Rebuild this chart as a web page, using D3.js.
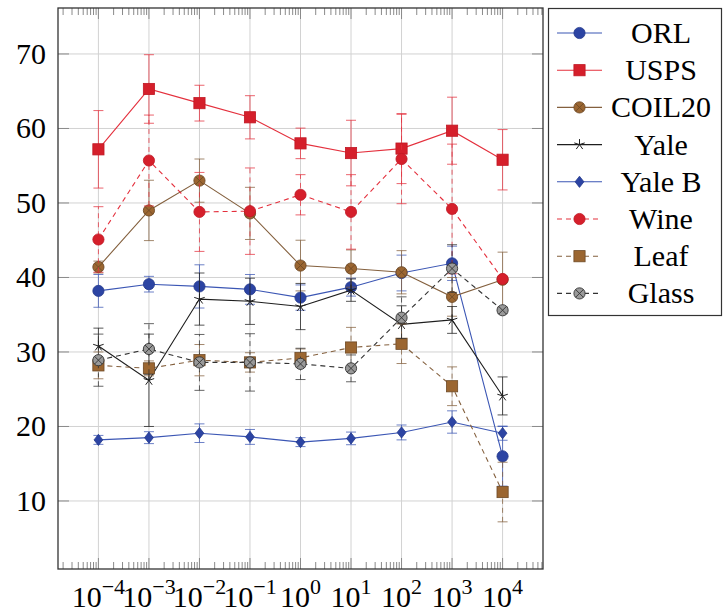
<!DOCTYPE html>
<html>
<head>
<meta charset="utf-8">
<script src="https://cdn.jsdelivr.net/npm/d3@7"></script>
</head>
<body style="margin:0">
<svg id="chart" width="723" height="614"></svg>
<script>
// Regularisation parameter values (x axis, log scale)
const lambdas = [1e-4, 1e-3, 1e-2, 1e-1, 1, 1e1, 1e2, 1e3, 1e4];
const xTickExponents = ["\u22124", "\u22123", "\u22122", "\u22121", "0", "1", "2", "3", "4"];
const yTicks = [10, 20, 30, 40, 50, 60, 70];

// Mean scores and their error (±) per dataset
const orl      = [38.2, 39.1, 38.8, 38.4, 37.3, 38.7, 40.6, 41.9, 16.0];
const orlErr   = [2.2, 1.05, 2.9, 2.0, 1.7, 1.2, 2.4, 2.3, 4.0];
const usps     = [57.2, 65.3, 63.4, 61.5, 58.0, 56.7, 57.3, 59.7, 55.8];
const uspsErr  = [5.2, 4.6, 2.4, 2.9, 2.05, 4.4, 4.7, 4.5, 4.05];
const coil20   = [41.4, 49.0, 53.0, 48.6, 41.6, 41.2, 40.7, 37.4, 39.7];
const coil20Err= [0.8, 4.05, 2.9, 3.5, 3.4, 2.5, 2.9, 2.6, 3.7];
const yale     = [30.8, 26.2, 37.1, 36.8, 36.1, 38.3, 33.7, 34.3, 24.1];
const yaleErr  = [2.4, 6.2, 3.5, 3.1, 3.1, 1.5, 2.5, 1.8, 2.55];
const yaleB    = [18.2, 18.5, 19.1, 18.6, 17.9, 18.4, 19.2, 20.6, 19.1];
const yaleBErr = [0.6, 0.8, 1.25, 1.0, 0.6, 0.85, 1.0, 1.5, 0.95];
const wine     = [45.1, 55.7, 48.8, 48.9, 51.1, 48.8, 55.9, 49.2, 39.8];
const wineErr  = [4.4, 6.1, 5.3, 5.8, 2.7, 5.0, 6.0, 8.7, 0.3];
const leaf     = [28.2, 27.8, 28.9, 28.6, 29.2, 30.6, 31.1, 25.4, 11.2];
const leafErr  = [1.8, 1.0, 2.1, 1.3, 1.2, 2.7, 2.65, 2.6, 4.0];
const glass    = [28.9, 30.4, 28.6, 28.6, 28.4, 27.8, 34.6, 41.2, 35.6];
const glassErr = [3.5, 3.4, 3.75, 3.85, 2.1, 1.8, 2.8, 3.2, 0.4];

const seriesNames = ["ORL", "USPS", "COIL20", "Yale", "Yale B", "Wine", "Leaf", "Glass"];

const BLUE = { line: "#3b56b4", fill: "#2c44a3", stroke: "#243a8c" };
const RED = { line: "#e4303d", fill: "#d51f2b", stroke: "#c01824" };
const BROWN = { line: "#84603e", fill: "#9b6631", stroke: "#6e4a26" };
const BLACK = { line: "#1e1e1e", fill: "#1e1e1e", stroke: "#1e1e1e" };
const GREY = { line: "#333333", fill: "#999999", stroke: "#333333" };

const series = [
  { name: seriesNames[0], values: orl, err: orlErr, color: BLUE, marker: "circle", dashed: false },
  { name: seriesNames[1], values: usps, err: uspsErr, color: RED, marker: "square", dashed: false },
  { name: seriesNames[2], values: coil20, err: coil20Err, color: BROWN, marker: "otimes", dashed: false },
  { name: seriesNames[3], values: yale, err: yaleErr, color: BLACK, marker: "star", dashed: false },
  { name: seriesNames[4], values: yaleB, err: yaleBErr, color: BLUE, marker: "diamond", dashed: false },
  { name: seriesNames[5], values: wine, err: wineErr, color: RED, marker: "circle", dashed: true },
  { name: seriesNames[6], values: leaf, err: leafErr, color: BROWN, marker: "square", dashed: true },
  { name: seriesNames[7], values: glass, err: glassErr, color: GREY, marker: "otimes", dashed: true }
];

const svg = d3.select("#chart");
const plot = { left: 58, right: 543, top: 8, bottom: 569 };

const x = d3.scaleLog().domain([Math.pow(10, -4.8), Math.pow(10, 4.8)]).range([plot.left, plot.right]);
const y = d3.scaleLinear().domain([0.87, 76.17]).range([plot.bottom, plot.top]);

// Grid
const grid = svg.append("g").attr("stroke", "#d2d2d2").attr("stroke-width", 1);
lambdas.forEach(v => grid.append("line")
  .attr("x1", x(v)).attr("x2", x(v)).attr("y1", plot.top).attr("y2", plot.bottom));
yTicks.forEach(v => grid.append("line")
  .attr("x1", plot.left).attr("x2", plot.right).attr("y1", y(v)).attr("y2", y(v)));

// Ticks (inward, on all four sides)
const ticks = svg.append("g").attr("stroke", "#8a8a8a").attr("stroke-width", 1);
const minorTicks = [];
for (let e = -5; e <= 4; e++) {
  for (let m = 2; m <= 9; m++) {
    const v = m * Math.pow(10, e);
    const px = x(v);
    if (px > plot.left + 0.5 && px < plot.right - 0.5) minorTicks.push(v);
  }
}
minorTicks.forEach(v => {
  const px = x(v);
  ticks.append("line").attr("x1", px).attr("x2", px).attr("y1", plot.bottom).attr("y2", plot.bottom - 7);
  ticks.append("line").attr("x1", px).attr("x2", px).attr("y1", plot.top).attr("y2", plot.top + 7);
});
lambdas.forEach(v => {
  const px = x(v);
  ticks.append("line").attr("x1", px).attr("x2", px).attr("y1", plot.bottom).attr("y2", plot.bottom - 11);
  ticks.append("line").attr("x1", px).attr("x2", px).attr("y1", plot.top).attr("y2", plot.top + 11);
});
yTicks.forEach(v => {
  const py = y(v);
  ticks.append("line").attr("x1", plot.left).attr("x2", plot.left + 11).attr("y1", py).attr("y2", py);
  ticks.append("line").attr("x1", plot.right).attr("x2", plot.right - 11).attr("y1", py).attr("y2", py);
});

// Data layers
const lineGen = d3.line().x(d => x(d.x)).y(d => y(d.y));
const capHalf = 5;

function drawMarker(g, kind, cx, cy, c) {
  if (kind === "circle") {
    g.append("circle").attr("cx", cx).attr("cy", cy).attr("r", 5.6)
      .attr("fill", c.fill).attr("stroke", c.stroke).attr("stroke-width", 0.8);
  } else if (kind === "square") {
    g.append("rect").attr("x", cx - 5.6).attr("y", cy - 5.6).attr("width", 11.2).attr("height", 11.2)
      .attr("fill", c.fill).attr("stroke", c.stroke).attr("stroke-width", 0.8);
  } else if (kind === "otimes") {
    g.append("circle").attr("cx", cx).attr("cy", cy).attr("r", 5.6)
      .attr("fill", c.fill).attr("stroke", c.stroke).attr("stroke-width", 0.9);
    const k = 5.6 * Math.SQRT1_2;
    g.append("path")
      .attr("d", `M${cx - k},${cy - k}L${cx + k},${cy + k}M${cx - k},${cy + k}L${cx + k},${cy - k}`)
      .attr("stroke", c.stroke).attr("stroke-width", 0.9).attr("fill", "none");
  } else if (kind === "diamond") {
    g.append("path")
      .attr("d", `M${cx},${cy - 5.6}L${cx + 4.4},${cy}L${cx},${cy + 5.6}L${cx - 4.4},${cy}Z`)
      .attr("fill", c.fill).attr("stroke", c.stroke).attr("stroke-width", 0.8);
  } else if (kind === "star") {
    let d = "";
    for (let i = 0; i < 5; i++) {
      const a = -Math.PI / 2 + i * 2 * Math.PI / 5;
      d += `M${cx},${cy}L${cx + 5.5 * Math.cos(a)},${cy + 5.5 * Math.sin(a)}`;
    }
    g.append("path").attr("d", d).attr("stroke", c.stroke).attr("stroke-width", 1).attr("fill", "none");
  }
}

series.forEach(s => {
  const g = svg.append("g");
  const pts = s.values.map((v, i) => ({ x: lambdas[i], y: v, e: s.err[i] }));
  const dash = s.dashed ? "5,4" : null;

  // error bars
  const eb = g.append("g").attr("stroke", s.color.line).attr("stroke-width", 1)
    .attr("stroke-opacity", 0.75).attr("fill", "none");
  pts.forEach(p => {
    const px = x(p.x), y0 = y(p.y - p.e), y1 = y(p.y + p.e);
    eb.append("line").attr("x1", px).attr("x2", px).attr("y1", y0).attr("y2", y1)
      .attr("stroke-dasharray", dash);
    eb.append("line").attr("x1", px - capHalf).attr("x2", px + capHalf).attr("y1", y0).attr("y2", y0);
    eb.append("line").attr("x1", px - capHalf).attr("x2", px + capHalf).attr("y1", y1).attr("y2", y1);
  });

  // connecting line
  g.append("path").datum(pts).attr("d", lineGen)
    .attr("fill", "none").attr("stroke", s.color.line).attr("stroke-width", 1.1)
    .attr("stroke-dasharray", dash);

  // markers
  const mg = g.append("g");
  pts.forEach(p => drawMarker(mg, s.marker, x(p.x), y(p.y), s.color));
});

// Frame
svg.append("rect")
  .attr("x", plot.left).attr("y", plot.top)
  .attr("width", plot.right - plot.left).attr("height", plot.bottom - plot.top)
  .attr("fill", "none").attr("stroke", "#333").attr("stroke-width", 1.3);

// Y tick labels
yTicks.forEach(v => {
  svg.append("text").attr("x", 46).attr("y", y(v) + 10).attr("font-size", 30)
    .style("font-family", '"Liberation Serif"')
    .style("text-anchor", "end")
    .text(String(v));
});

// X tick labels: 10 with superscript exponent
lambdas.forEach((v, i) => {
  const t = svg.append("text").attr("x", x(v)).attr("y", 607).attr("font-size", 30)
    .style("font-family", '"Liberation Serif"')
    .style("text-anchor", "middle");
  t.append("tspan").text("10");
  t.append("tspan").attr("font-size", 22).attr("dy", -13).text(xTickExponents[i]);
});

// Legend
const legend = svg.append("g");
legend.append("rect").attr("x", 548.5).attr("y", 8.5).attr("width", 173).attr("height", 307)
  .attr("fill", "#fff").attr("stroke", "#333").attr("stroke-width", 1.2);
series.forEach((s, i) => {
  const cy = 33 + i * 37.2;
  legend.append("line").attr("x1", 557).attr("x2", 602).attr("y1", cy).attr("y2", cy)
    .attr("stroke", s.color.line).attr("stroke-width", 1.1)
    .attr("stroke-dasharray", s.dashed ? "5,4" : null);
  drawMarker(legend, s.marker, 579.5, cy, s.color);
});
series.forEach((s, i) => {
  const cy = 33 + i * 37.2;
  svg.append("text").attr("x", 661).attr("y", cy + 10).attr("font-size", 30)
    .style("font-family", '"Liberation Serif"')
    .style("text-anchor", "middle")
    .text(s.name);
});
</script>
</body>
</html>
